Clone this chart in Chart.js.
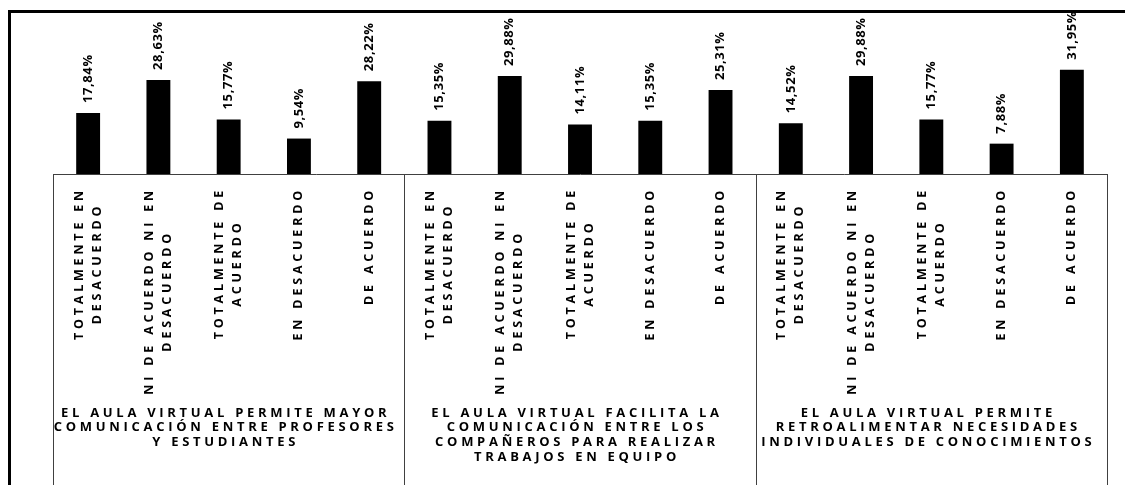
<!DOCTYPE html>
<html>
<head>
<meta charset="utf-8">
<script src="https://cdn.jsdelivr.net/npm/chart.js@4"></script>
<style>
    html, body { margin: 0; padding: 0; background: #fff; }
    #wrap { position: relative; width: 1125px; height: 485px; overflow: hidden; }
    #frame { position: absolute; left: 8px; top: 10px; width: 1200px; height: 600px;
             border-left: 3px solid #000; border-top: 3px solid #000; }
    canvas { position: absolute; left: 0; top: 0; }
</style>
</head>
<body>
<div id="wrap">
    <div id="frame"></div>
    <canvas id="chart" width="1125" height="485"></canvas>
</div>
<script>
// Categorias (eje inferior) y grupos (segundo nivel)
const categories = [
    ['TOTALMENTE EN', 'DESACUERDO'],
    ['NI DE ACUERDO NI EN', 'DESACUERDO'],
    ['TOTALMENTE DE', 'ACUERDO'],
    ['EN DESACUERDO'],
    ['DE ACUERDO']
];
const groups = [
    ['EL AULA VIRTUAL PERMITE MAYOR', 'COMUNICACIÓN ENTRE PROFESORES', 'Y ESTUDIANTES'],
    ['EL AULA VIRTUAL FACILITA LA', 'COMUNICACIÓN ENTRE LOS', 'COMPAÑEROS PARA REALIZAR', 'TRABAJOS EN EQUIPO'],
    ['EL AULA VIRTUAL PERMITE', 'RETROALIMENTAR NECESIDADES', 'INDIVIDUALES DE CONOCIMIENTOS']
];
const values = [17.84, 28.63, 15.77, 9.54, 28.22, 15.35, 29.88, 14.11, 15.35, 25.31, 14.52, 29.88, 15.77, 7.88, 31.95];

const FONT = '"Open Sans", "Noto Sans", sans-serif';
const labels = [];
groups.forEach(() => categories.forEach(c => labels.push(c)));

const fmt = v => v.toFixed(2).replace('.', ',') + '%';

const textPlugin = {
    id: 'texts',
    afterDraw(chart) {
        const ctx = chart.ctx;
        const x = chart.scales.x;
        const area = chart.chartArea;
        const step = x.getPixelForValue(1) - x.getPixelForValue(0);
        const bottom = chart.height;

        // separadores de grupo
        ctx.save();
        ctx.strokeStyle = '#404040';
        ctx.lineWidth = 1;
        for (let g = 0; g <= groups.length; g++) {
            const px = Math.round(x.getPixelForValue(g * categories.length) - step / 2) + 0.5;
            ctx.beginPath();
            ctx.moveTo(px, area.bottom);
            ctx.lineTo(px, bottom);
            ctx.stroke();
        }
        ctx.restore();

        // etiquetas de valor
        const meta = chart.getDatasetMeta(0);
        ctx.save();
        ctx.fillStyle = '#000';
        ctx.font = 'bold 13px ' + FONT;
        ctx.letterSpacing = '0.6px';
        ctx.textAlign = 'left';
        ctx.textBaseline = 'middle';
        meta.data.forEach((bar, i) => {
            ctx.save();
            ctx.translate(bar.x, bar.y - 10);
            ctx.rotate(-Math.PI / 2);
            ctx.fillText(fmt(values[i]), 0, 0);
            ctx.restore();
        });
        ctx.restore();

        // categorias verticales
        ctx.save();
        ctx.fillStyle = '#000';
        ctx.font = 'bold 12.5px ' + FONT;
        ctx.letterSpacing = '3.8px';
        ctx.textAlign = 'center';
        ctx.textBaseline = 'middle';
        chart.data.labels.forEach((lines, i) => {
            const w = Math.max(...lines.map(l => ctx.measureText(l).width));
            ctx.save();
            ctx.translate(x.getPixelForValue(i), area.bottom + 13 + w / 2);
            ctx.rotate(-Math.PI / 2);
            lines.forEach((l, k) => {
                ctx.fillText(l, 0, (k - (lines.length - 1) / 2) * 18);
            });
            ctx.restore();
        });
        ctx.restore();

        // titulos de grupo
        ctx.save();
        ctx.fillStyle = '#000';
        ctx.font = 'bold 13px ' + FONT;
        ctx.letterSpacing = '3.7px';
        ctx.textAlign = 'center';
        ctx.textBaseline = 'middle';
        groups.forEach((lines, g) => {
            const first = x.getPixelForValue(g * categories.length);
            const last = x.getPixelForValue((g + 1) * categories.length - 1);
            const cx = (first + last) / 2;
            lines.forEach((l, k) => ctx.fillText(l, cx - 3, 413 + k * 14.7));
        });
        ctx.restore();
    }
};

new Chart(document.getElementById('chart').getContext('2d'), {
    type: 'bar',
    data: {
        labels: labels,
        datasets: [{
            data: values,
            base: -2,
            backgroundColor: '#000',
            borderColor: '#000',
            barPercentage: 0.34,
            categoryPercentage: 1
        }]
    },
    options: {
        responsive: false,
        animation: false,
        layout: { padding: { left: 53, right: 18, top: 45, bottom: 311 } },
        plugins: { legend: { display: false }, tooltip: { enabled: false } },
        scales: {
            x: {
                grid: { display: false, drawTicks: false },
                ticks: { display: false },
                border: { display: true, color: '#404040', width: 1 }
            },
            y: { display: false, min: -2, max: 40 }
        }
    },
    plugins: [textPlugin]
});
</script>
</body>
</html>
